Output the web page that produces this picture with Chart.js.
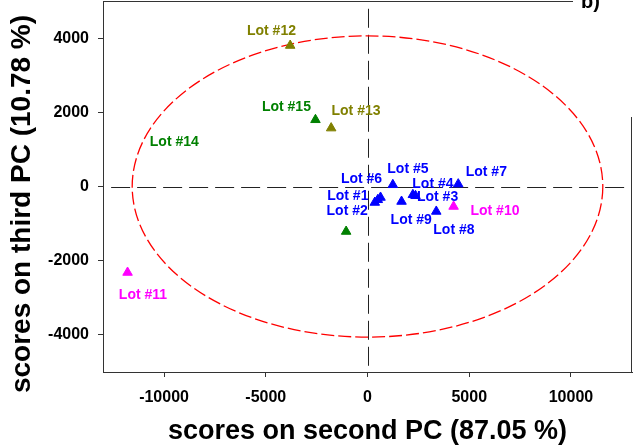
<!DOCTYPE html>
<html>
<head>
<meta charset="utf-8">
<script src="https://cdn.jsdelivr.net/npm/chart.js@4.4.1/dist/chart.umd.min.js"></script>
<style>
  body { margin: 0; background: #fff; }
</style>
</head>
<body>
<canvas id="mycanvas" width="636" height="448"></canvas>
<script>
// scores, Lot #1 .. Lot #15
var lotNames = ['Lot #1', 'Lot #2', 'Lot #3', 'Lot #4', 'Lot #5', 'Lot #6', 'Lot #7', 'Lot #8',
                'Lot #9', 'Lot #10', 'Lot #11', 'Lot #12', 'Lot #13', 'Lot #14', 'Lot #15'];
var pc2Scores = [507, 359, 2230, 2360, 1245, 640, 4460, 3380, 1673, 4231, -11793, -3800, -1786, -1050, -2558];
var pc3Scores = [-358, -431, -224, -250, 46, -296, 64, -673, -404, -539, -2318, 3800, 1574, -1213, 1798];
var lotGroup = [0, 0, 0, 0, 0, 0, 0, 0, 0, 1, 1, 2, 2, 3, 3];

// where each lot's name sits (same units as the scores)
var labelPc2 = [-968, -999, 3444, 3214, 1985, -295, 5840, 4247, 2148, 6265, -11036, -4720, -566, -9496, -3985];
var labelPc3 = [-251, -655, -296, 64, 469, 199, 377, -1167, -897, -655, -2937, 4200, 2021, 1197, 2140];

var xTicks = [-10000, -5000, 0, 5000, 10000];
var yTicks = [-4000, -2000, 0, 2000, 4000];

// confidence ellipse: centre and half axes
var ellipseCentre = [0, 0];
var ellipseHalfAxes = [11565, 4060];

var groupColors = ['#0000ff', '#ff00ff', '#808000', '#008000'];
var FONT = "'Liberation Sans', Arial, sans-serif";

var datasets = [];
for (var g = 0; g < groupColors.length; g++) {
	var pts = [];
	for (var i = 0; i < lotNames.length; i++) {
		if (lotGroup[i] === g) pts.push({x: pc2Scores[i], y: pc3Scores[i]});
	}
	datasets.push({
		data: pts,
		pointStyle: 'triangle',
		pointRadius: 5.5,
		pointBackgroundColor: groupColors[g],
		pointBorderColor: groupColors[g],
		pointBorderWidth: 1
	});
}

var decor = {
	id: 'decor',
	beforeDatasetsDraw: function(chart) {
		var ctx = chart.ctx, xs = chart.scales.x, ys = chart.scales.y;
		ctx.save();
		// dashed zero lines
		ctx.strokeStyle = '#222';
		ctx.lineWidth = 1;
		ctx.setLineDash([19, 7]);
		var y0 = Math.round(ys.getPixelForValue(0)) + 0.5;
		ctx.beginPath();
		ctx.moveTo(xs.getPixelForValue(-12600), y0);
		ctx.lineTo(xs.right, y0);
		ctx.stroke();
		var x0 = Math.round(xs.getPixelForValue(0)) + 0.5;
		ctx.beginPath();
		ctx.moveTo(x0, ys.getPixelForValue(4790));
		ctx.lineTo(x0, ys.bottom);
		ctx.stroke();
		// red ellipse
		ctx.strokeStyle = '#ff0000';
		ctx.lineWidth = 1.3;
		ctx.setLineDash([13, 4]);
		var cx = xs.getPixelForValue(ellipseCentre[0]);
		var cy = ys.getPixelForValue(ellipseCentre[1]);
		var rx = Math.abs(xs.getPixelForValue(ellipseCentre[0] + ellipseHalfAxes[0]) - cx);
		var ry = Math.abs(ys.getPixelForValue(ellipseCentre[1] + ellipseHalfAxes[1]) - cy);
		ctx.beginPath();
		ctx.ellipse(cx, cy, rx, ry, 0, 0, Math.PI * 2);
		ctx.stroke();
		ctx.restore();
	},
	afterDatasetsDraw: function(chart) {
		var ctx = chart.ctx, xs = chart.scales.x, ys = chart.scales.y;
		ctx.save();
		ctx.font = 'bold 14px ' + FONT;
		ctx.textAlign = 'center';
		ctx.textBaseline = 'middle';
		for (var i = 0; i < lotNames.length; i++) {
			ctx.fillStyle = groupColors[lotGroup[i]];
			ctx.fillText(lotNames[i], xs.getPixelForValue(labelPc2[i]), ys.getPixelForValue(labelPc3[i]));
		}
		ctx.restore();
	},
	afterDraw: function(chart) {
		var ctx = chart.ctx, a = chart.chartArea;
		ctx.save();
		// rest of the frame (top right corner is covered by the panel letter)
		ctx.strokeStyle = '#333';
		ctx.lineWidth = 1;
		ctx.beginPath();
		ctx.moveTo(a.left, a.top + 0.5);
		ctx.lineTo(573, a.top + 0.5);
		ctx.moveTo(a.right - 0.5, 117);
		ctx.lineTo(a.right - 0.5, a.bottom);
		ctx.stroke();
		ctx.fillStyle = '#000';
		ctx.font = 'bold 20px ' + FONT;
		ctx.textAlign = 'left';
		ctx.textBaseline = 'alphabetic';
		ctx.fillText('b)', 581, 8);
		// y axis title
		ctx.translate(22.6, 204);
		ctx.rotate(-Math.PI / 2);
		ctx.font = 'bold 28px ' + FONT;
		ctx.textAlign = 'center';
		ctx.textBaseline = 'middle';
		ctx.fillText('scores on third PC (10.78 %)', 0, 0);
		ctx.restore();
	}
};

function plainNumber(v) { return String(v); }

var ctx = document.getElementById('mycanvas');

var scoreChart = new Chart(ctx, {
	type: 'scatter',
	data: { datasets: datasets },
	options: {
		responsive: false,
		animation: false,
		devicePixelRatio: 1,
		layout: { autoPadding: false, padding: { top: 1, right: 4, left: 0, bottom: 0 } },
		plugins: { legend: { display: false }, tooltip: { enabled: false } },
		scales: {
			x: {
				type: 'linear',
				min: -13000,
				max: 13000,
				afterBuildTicks: function(s) { s.ticks = xTicks.map(function(v) { return {value: v}; }); },
				afterFit: function(s) { s.height = 76; s.paddingLeft = 0; s.paddingRight = 0; },
				grid: { drawOnChartArea: false, tickLength: 5, color: '#333' },
				border: { color: '#333' },
				ticks: { color: '#000', padding: 11, maxRotation: 0, callback: plainNumber,
					font: { family: FONT, size: 16, weight: 'bold' } },
				title: {
					display: true,
					text: 'scores on second PC (87.05 %)',
					color: '#000',
					padding: { top: 0, bottom: 0 },
					font: { family: FONT, size: 27, weight: 'bold', lineHeight: 1.2 }
				}
			},
			y: {
				type: 'linear',
				min: -5000,
				max: 5000,
				afterBuildTicks: function(s) { s.ticks = yTicks.map(function(v) { return {value: v}; }); },
				afterFit: function(s) { s.width = 103; s.paddingTop = 0; s.paddingBottom = 0; },
				grid: { drawOnChartArea: false, tickLength: 5, color: '#333' },
				border: { color: '#333' },
				ticks: { color: '#000', padding: 9, callback: plainNumber,
					font: { family: FONT, size: 16, weight: 'bold' } }
			}
		}
	},
	plugins: [decor]
});
</script>
</body>
</html>
